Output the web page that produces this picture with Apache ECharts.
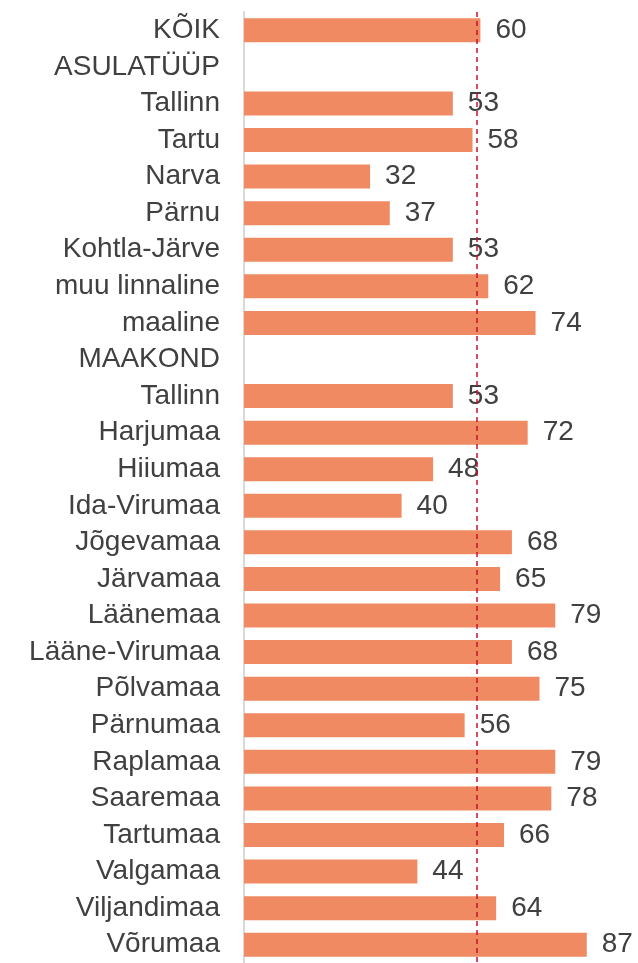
<!DOCTYPE html>
<html>
<head>
<meta charset="utf-8">
<script src="https://cdn.jsdelivr.net/npm/echarts@6/dist/echarts.min.js"></script>
<style>
  html, body { margin: 0; padding: 0; background: #fff; }
  #chart { width: 638px; height: 963px; }
</style>
</head>
<body>
<div id="chart"></div>
<script>
const categories = [
  'KÕIK', 'ASULATÜÜP', 'Tallinn', 'Tartu', 'Narva', 'Pärnu', 'Kohtla-Järve',
  'muu linnaline', 'maaline', 'MAAKOND', 'Tallinn', 'Harjumaa', 'Hiiumaa',
  'Ida-Virumaa', 'Jõgevamaa', 'Järvamaa', 'Läänemaa', 'Lääne-Virumaa',
  'Põlvamaa', 'Pärnumaa', 'Raplamaa', 'Saaremaa', 'Tartumaa', 'Valgamaa',
  'Viljandimaa', 'Võrumaa'
]
const values = [
  60, null, 53, 58, 32, 37, 53,
  62, 74, null, 53, 72, 48,
  40, 68, 65, 79, 68,
  75, 56, 79, 78, 66, 44,
  64, 87
]
const averageLine = 59

const chart = echarts.init(document.getElementById('chart'))

chart.setOption({
  animation: false,
  grid: {
    left: 244,
    right: 0,
    top: 12,
    bottom: -3
  },
  xAxis: {
    type: 'value',
    min: 0,
    max: 100,
    show: false
  },
  yAxis: {
    type: 'category',
    inverse: true,
    data: categories,
    axisTick: { show: false },
    axisLine: { lineStyle: { color: '#d9d9d9', width: 2 } },
    axisLabel: {
      color: '#404040',
      fontFamily: 'Liberation Sans',
      fontSize: 28,
      margin: 24,
      padding: [0, 0, 6, 0]
    }
  },
  series: [
    {
      type: 'bar',
      data: values,
      barWidth: 24,
      itemStyle: { color: '#f08a62' },
      label: {
        show: true,
        position: 'right',
        distance: 15,
        color: '#404040',
        fontFamily: 'Liberation Sans',
        fontSize: 28,
        padding: [0, 0, 6, 0]
      },
      markLine: {
        silent: true,
        symbol: 'none',
        label: { show: false },
        lineStyle: { color: '#c8102e', type: [5, 4], width: 1.5 },
        data: [{ xAxis: averageLine }]
      }
    }
  ]
})
</script>
</body>
</html>
